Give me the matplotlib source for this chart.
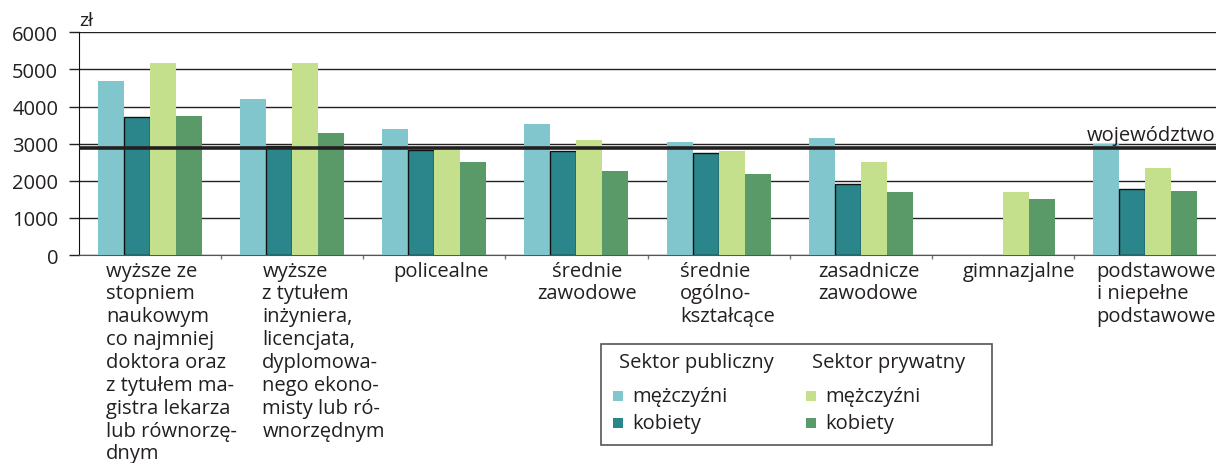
import numpy as np
import matplotlib
matplotlib.use("Agg")
import matplotlib.pyplot as plt
from matplotlib.patches import Rectangle

plt.rcParams["font.family"] = ["Open Sans", "DejaVu Sans"]

# =========================
# dane
# =========================
categories = [
    "wyższe ze\nstopniem\nnaukowym\nco najmniej\ndoktora oraz\nz tytułem ma-\ngistra lekarza\nlub równorzę-\ndnym",
    "wyższe\nz tytułem\ninżyniera,\nlicencjata,\ndyplomowa-\nnego ekono-\nmisty lub ró-\nwnorzędnym",
    "policealne",
    "średnie\nzawodowe",
    "średnie\nogólno-\nkształcące",
    "zasadnicze\nzawodowe",
    "gimnazjalne",
    "podstawowe\ni niepełne\npodstawowe",
]
pub_men = [4680, 4200, 3390, 3520, 3040, 3150, np.nan, 2990]
pub_women = [3730, 2930, 2840, 2810, 2740, 1900, np.nan, 1780]
priv_men = [5165, 5165, 2850, 3090, 2800, 2500, 1700, 2340]
priv_women = [3740, 3280, 2500, 2260, 2180, 1700, 1510, 1720]
voivodeship = 2870

series = [
    ("mężczyźni", pub_men, "#82C6CD", "none"),
    ("kobiety", pub_women, "#2B868C", "#111111"),
    ("mężczyźni", priv_men, "#C4E08C", "none"),
    ("kobiety", priv_women, "#5A9968", "none"),
]

FS = 14.5
TXT = "#231F20"

# =========================
# wykres
# =========================
fig = plt.figure(figsize=(12.16, 4.64), dpi=100)
ax = fig.add_axes([79 / 1216, 208 / 464, 1 - 79 / 1216, 222.7 / 464])

x = np.arange(len(categories))
bw = 0.183
for k, (name, vals, col, ec) in enumerate(series):
    ax.bar(x + (k - 1.5) * bw, vals, width=bw, color=col,
           edgecolor=ec, linewidth=1.0 if ec != "none" else 0, zorder=3)

ax.axhline(voivodeship, color=TXT, linewidth=2.6, zorder=4)
ax.text(len(categories) - 0.5 - 0.005, voivodeship + 90, "województwo",
        ha="right", va="bottom", fontsize=FS, color=TXT)

ax.set_xlim(-0.5, len(categories) - 0.5)
ax.set_ylim(0, 6000)
ax.set_yticks(range(0, 6001, 1000))
ax.yaxis.grid(True, color="#222222", linewidth=1.0, zorder=0)
ax.set_axisbelow(True)
ax.tick_params(axis="y", length=7, width=1, color="#222222",
               labelsize=FS, pad=8, labelcolor=TXT)

ax.set_xticks(np.arange(0.5, len(categories) - 0.5, 1.0))
ax.set_xticklabels([])
ax.tick_params(axis="x", length=3, width=1, color="#777777")

for s in ["top", "right"]:
    ax.spines[s].set_visible(False)
ax.spines["left"].set_color("#111111")
ax.spines["bottom"].set_color("#555555")

# podpisy kategorii
pads = [0.19, 0.29, 0.21, 0.225, 0.23, 0.20, 0.22, 0.16]
for i, lab in enumerate(categories):
    ax.annotate(lab, xy=(i - 0.5 + pads[i], 0), xycoords=("data", "axes fraction"),
                xytext=(0, -4), textcoords="offset points",
                ha="left", va="top", fontsize=FS, linespacing=1.19,
                multialignment="center" if i == 3 else "left",
                color=TXT, annotation_clip=False)

ax.text(0.0, 1.015, "zł", transform=ax.transAxes, ha="left", va="bottom",
        fontsize=14, color=TXT)

# =========================
# legenda
# =========================
W, H = 1216, 464
fig.patches.append(Rectangle((601 / W, 1 - 446 / H), (992 - 601) / W, (446 - 345) / H,
                             transform=fig.transFigure, facecolor="white",
                             edgecolor="#555555", linewidth=1.2, zorder=5))
cols = [(619, 613, 632), (812, 806, 825)]
heads = ["Sektor publiczny", "Sektor prywatny"]
for c, (hx, sx, tx) in enumerate(cols):
    fig.text(hx / W, 1 - 363 / H, heads[c], ha="left", va="center",
             fontsize=FS, color=TXT, zorder=6)
    for r, yy in enumerate([397, 424]):
        name, _, col, _ = series[c * 2 + r]
        fig.patches.append(Rectangle((sx / W, 1 - (yy + 5) / H), 10 / W, 10 / H,
                                     transform=fig.transFigure, facecolor=col,
                                     edgecolor="none", zorder=6))
        fig.text(tx / W, 1 - yy / H, name, ha="left", va="center",
                 fontsize=FS, color=TXT, zorder=6)

fig.savefig("out.png", dpi=100)
